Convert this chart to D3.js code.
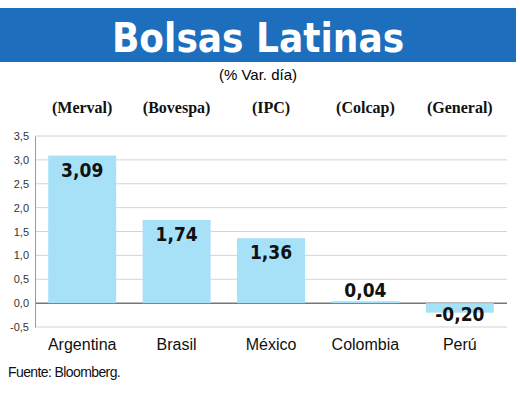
<!DOCTYPE html>
<html lang="es">
<head>
<meta charset="utf-8">
<script src="https://cdn.jsdelivr.net/npm/d3@7"></script>
<style>body{margin:0;background:#fff}</style>
</head>
<body>
<svg width="520" height="400"></svg>
<script>
var countries = ["Argentina", "Brasil", "México", "Colombia", "Perú"];
var indices = ["(Merval)", "(Bovespa)", "(IPC)", "(Colcap)", "(General)"];
var values = [3.09, 1.74, 1.36, 0.04, -0.20];
var yTicks = [-0.5, 0, 0.5, 1, 1.5, 2, 2.5, 3, 3.5];

var svg = d3.select("svg");
var fmt = function(v, n) { return v.toFixed(n).replace(".", ","); };

// banner
svg.append("rect").attr("x", 0).attr("y", 8).attr("width", 516).attr("height", 54).attr("fill", "#1d6fbe");
svg.append("text").attr("x", 258).attr("y", 52).attr("text-anchor", "middle")
    .attr("font-family", "DejaVu Sans Condensed, DejaVu Sans").attr("font-weight", "bold")
    .attr("font-size", "40px").attr("fill", "#fff").text("Bolsas Latinas");
svg.append("text").attr("x", 258).attr("y", 80).attr("text-anchor", "middle")
    .attr("font-family", "Liberation Sans").attr("font-size", "15px").text("(% Var. día)");

var x = d3.scaleBand().domain(countries).range([35, 507]).paddingInner(0.28).paddingOuter(0.14);
var y = d3.scaleLinear().domain([-0.5, 3.5]).range([327, 136]);

// grid
svg.selectAll(".grid").data(yTicks).enter().append("line")
    .attr("x1", 35).attr("x2", 507)
    .attr("y1", function(d) { return y(d); }).attr("y2", function(d) { return y(d); })
    .attr("stroke", function(d) { return d === 0 ? "#777" : "#d4d4d4"; })
    .attr("stroke-width", function(d) { return d === 0 ? 1.5 : 1; });

var ax = svg.append("g").attr("transform", "translate(35,0)")
    .call(d3.axisLeft(y).tickValues(yTicks).tickSize(0).tickPadding(6).tickFormat(function(d) { return fmt(d, 1); }));
ax.select(".domain").attr("stroke", "#999");
ax.selectAll("text").attr("font-family", "Liberation Sans").attr("font-size", "11px").attr("fill", "#333");

svg.selectAll(".bar").data(values).enter().append("rect")
    .attr("x", function(d, i) { return x(countries[i]); })
    .attr("y", function(d) { return y(Math.max(d, 0)); })
    .attr("width", x.bandwidth())
    .attr("height", function(d) { return Math.abs(y(d) - y(0)); })
    .attr("fill", "#a6e1f8");

svg.selectAll(".val").data(values).enter().append("text")
    .attr("x", function(d, i) { return x(countries[i]) + x.bandwidth() / 2; })
    .attr("y", function(d) { return d > 0.5 ? y(d) + 21 : (d >= 0 ? y(d) - 4 : y(d) + 8); })
    .attr("text-anchor", "middle")
    .attr("font-family", "DejaVu Sans Condensed, DejaVu Sans").attr("font-weight", "bold")
    .attr("font-size", "19px").attr("fill", "#111")
    .text(function(d) { return fmt(d, 2); });

svg.selectAll(".cat").data(countries).enter().append("text")
    .attr("x", function(d) { return x(d) + x.bandwidth() / 2; }).attr("y", 350)
    .attr("text-anchor", "middle").attr("font-family", "Liberation Sans").attr("font-size", "16px")
    .attr("fill", "#111").text(function(d) { return d; });

svg.selectAll(".idx").data(indices).enter().append("text")
    .attr("x", function(d, i) { return x(countries[i]) + x.bandwidth() / 2; }).attr("y", 113)
    .attr("text-anchor", "middle").attr("font-family", "Liberation Serif").attr("font-weight", "bold")
    .attr("font-size", "16px").attr("fill", "#111").text(function(d) { return d; });

svg.append("text").attr("x", 8).attr("y", 377)
    .attr("font-family", "Liberation Sans").attr("font-size", "14px")
    .attr("letter-spacing", "-0.6").attr("fill", "#111").text("Fuente: Bloomberg.");
</script>
</body>
</html>
